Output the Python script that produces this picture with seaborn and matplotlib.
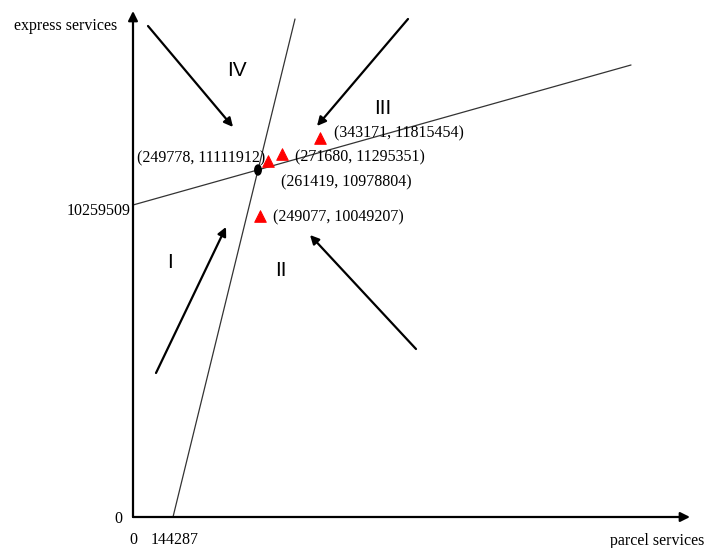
import numpy as np
import pandas as pd
import seaborn as sns
import matplotlib.pyplot as plt
from matplotlib.patches import Ellipse

# values printed on the chart
point_parcel = [249778, 271680, 343171, 249077]
point_express = [11111912, 11295351, 11815454, 10049207]
eq_parcel = 261419
eq_express = 10978804
x_intercept = 144287
y_intercept = 10259509
regions = ['I', 'II', 'III', 'IV']

# schematic (not to scale) positions in the diagram, origin = (0, 0)
point_sx = [135, 149, 187, 127]
point_sy = [356, 363, 379, 301]
eq_sx, eq_sy = 125, 347
line1_sx = [40, 162]
line1_sy = [0, 498]
line2_sx = [0, 498]
line2_sy = [312, 452]

sns.set_style('white')
plt.rcParams['font.family'] = ['Liberation Serif', 'DejaVu Serif']
plt.rcParams['text.color'] = 'black'

fig = plt.figure(figsize=(7.07, 5.48), dpi=100)
ax = fig.add_axes([0, 0, 1, 1])
ax.axis('off')

# axes arrows
for tip in [(0, 506), (557, 0)]:
    ax.annotate('', xy=tip, xytext=(0, 0),
                arrowprops=dict(arrowstyle='-|>', color='black', lw=1.6, mutation_scale=14, shrinkA=0, shrinkB=0))

# the two lines
lines = pd.DataFrame({'x': line1_sx + line2_sx, 'y': line1_sy + line2_sy,
                      'line': ['a', 'a', 'b', 'b']})
sns.lineplot(data=lines, x='x', y='y', units='line', estimator=None,
             color='#333333', lw=0.9, ax=ax, sort=False)

# points
pts = pd.DataFrame({'x': point_sx, 'y': point_sy})
sns.scatterplot(data=pts, x='x', y='y', marker='^', color='red', s=70,
                edgecolor='red', ax=ax, zorder=5)
ax.add_patch(Ellipse((eq_sx, eq_sy), 6.5, 10, color='black', zorder=6))
ax.set_xlim(-133, 707 - 133)
ax.set_ylim(517 - 548, 517)
ax.axis('off')

fs = 11.5
lab = lambda i: '(%d, %d)' % (point_parcel[i], point_express[i])
ax.text(point_sx[0] - 3, point_sy[0] + 3, lab(0), ha='right', va='center', fontsize=fs)
ax.text(point_sx[1] + 13, point_sy[1] - 3, lab(1), ha='left', va='center', fontsize=fs)
ax.text(point_sx[2] + 14, point_sy[2] + 5, lab(2), ha='left', va='center', fontsize=fs)
ax.text(point_sx[3] + 13, point_sy[3] - 1, lab(3), ha='left', va='center', fontsize=fs)
ax.text(eq_sx + 23, eq_sy - 12, '(%d, %d)' % (eq_parcel, eq_express), ha='left', va='center', fontsize=fs)

# axis labels and ticks
ax.text(-67, 491, 'express services', ha='center', va='center', fontsize=fs)
ax.text(524, -24, 'parcel services', ha='center', va='center', fontsize=fs)
ax.text(-15, -2, '0', ha='center', va='center', fontsize=fs)
ax.text(0, -23, '0', ha='center', va='center', fontsize=fs)
ax.text(line1_sx[0] + 2, -23, str(x_intercept), ha='center', va='center', fontsize=fs)
ax.text(-2, line2_sy[0] - 6, str(y_intercept), ha='right', va='center', fontsize=fs)

# region numerals
rpos = [(37, 255), (148, 247), (250, 409), (104, 447)]
for r, (x, y) in zip(regions, rpos):
    ax.text(x, y, r, ha='center', va='center', fontsize=15, family=['Liberation Sans', 'DejaVu Sans'])

# direction arrows
arrows = [((23, 144), (93, 290)), ((283, 168), (177, 282)),
          ((15, 491), (100, 390)), ((275, 498), (184, 391))]
for (x0, y0), (x1, y1) in arrows:
    ax.annotate('', xy=(x1, y1), xytext=(x0, y0),
                arrowprops=dict(arrowstyle='-|>', color='black', lw=1.6, mutation_scale=13, shrinkA=0, shrinkB=0))

plt.savefig('out.png', dpi=100)
